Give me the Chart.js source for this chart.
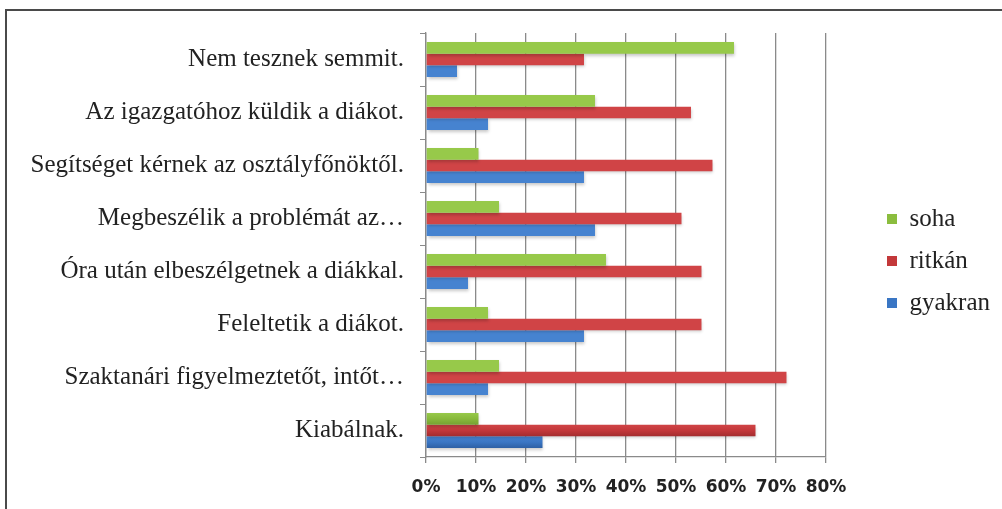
<!DOCTYPE html>
<html>
<head>
<meta charset="utf-8">
<script src="https://cdn.jsdelivr.net/npm/chart.js@4.4.1/dist/chart.umd.min.js"></script>
<style>
  html, body { margin: 0; padding: 0; background: #ffffff; }
  #wrap { position: relative; width: 1002px; height: 509px; overflow: hidden; }
  #frame { position: absolute; left: 5px; top: 9px; width: 1100px; height: 600px;
           border-left: 2px solid #4a4a4a; border-top: 2px solid #4a4a4a; }
  canvas { position: absolute; left: 0; top: 0; }
</style>
</head>
<body>
<div id="wrap">
  <div id="frame"></div>
  <canvas id="c" width="1002" height="509"></canvas>
</div>
<script>
const categories = [
  "Nem tesznek semmit.",
  "Az igazgatóhoz küldik a diákot.",
  "Segítséget kérnek az osztályfőnöktől.",
  "Megbeszélik a problémát az…",
  "Óra után elbeszélgetnek a diákkal.",
  "Feleltetik a diákot.",
  "Szaktanári figyelmeztetőt, intőt…",
  "Kiabálnak."
];
const seriesNames = ["soha", "ritkán", "gyakran"];
const soha    = [61.6, 33.8, 10.5, 14.6, 36.0, 12.4, 14.6, 10.5];
const ritkan  = [31.6, 53.0, 57.3, 51.1, 55.1, 55.1, 72.1, 65.9];
const gyakran = [ 6.2, 12.4, 31.6, 33.8,  8.4, 31.6, 12.4, 23.3];
const xTicks  = [0, 10, 20, 30, 40, 50, 60, 70, 80];

const colors = ["#8bbd3e", "#c3383a", "#3a76c4"];
const gradStops = [
  ["#97c94a", "#88b93c", "#76a132"],
  ["#d04446", "#c3373a", "#a32c2e"],
  ["#4683d0", "#3a76c4", "#2e60a4"]
];

const SERIF = '"Liberation Serif", "Times New Roman", serif';
Chart.defaults.font.family = SERIF;

const barStyle = {
  id: 'barStyle',
  beforeDatasetsDraw(chart) {
    const c = chart.ctx;
    chart.data.datasets.forEach((ds, i) => {
      const meta = chart.getDatasetMeta(i);
      meta.data.forEach(el => {
        const top = el.y - el.height / 2, bot = el.y + el.height / 2;
        const g = c.createLinearGradient(0, top, 0, bot);
        g.addColorStop(0, gradStops[i][0]);
        g.addColorStop(0.5, gradStops[i][1]);
        g.addColorStop(1, gradStops[i][2]);
        el.options.backgroundColor = g;
      });
    });
    c.save();
    c.shadowColor = 'rgba(0,0,0,0.22)';
    c.shadowBlur = 3;
    c.shadowOffsetX = 1;
    c.shadowOffsetY = 2;
  },
  afterDatasetsDraw(chart) { chart.ctx.restore(); }
};

const legendShift = {
  id: 'legendShift',
  afterLayout(chart) {
    const l = chart.legend;
    const dx = 44, dy = -10;
    l.left += dx; l.right += dx; l.top += dy; l.bottom += dy;
  }
};

const ctx = document.getElementById('c').getContext('2d');
new Chart(ctx, {
  type: 'bar',
  data: {
    labels: categories,
    datasets: [
      { label: seriesNames[0], data: soha,    backgroundColor: colors[0], borderWidth: 0 },
      { label: seriesNames[1], data: ritkan,  backgroundColor: colors[1], borderWidth: 0 },
      { label: seriesNames[2], data: gyakran, backgroundColor: colors[2], borderWidth: 0 }
    ]
  },
  plugins: [barStyle, legendShift],
  options: {
    indexAxis: 'y',
    responsive: false,
    animation: false,
    layout: { padding: { top: 33, left: 14, right: 46, bottom: 0 } },
    datasets: { bar: { categoryPercentage: 0.66, barPercentage: 1.0 } },
    plugins: {
      legend: {
        position: 'right',
        labels: {
          boxWidth: 10, boxHeight: 10, padding: 17,
          color: '#222',
          font: { family: SERIF, size: 25 }
        }
      },
      tooltip: { enabled: false }
    },
    scales: {
      x: {
        min: 0, max: 80,
        afterBuildTicks: (s) => { s.ticks = xTicks.map(v => ({ value: v })); },
        afterFit: (s) => { s.height = 509 - 457; },
        grid: { color: '#8a8a8a', lineWidth: 1.3, tickColor: '#8a8a8a', tickLength: 6 },
        border: { color: '#8a8a8a', width: 1.3 },
        ticks: {
          color: '#222', padding: 14,
          font: { family: '"DejaVu Sans", sans-serif', size: 17, weight: 'bold' },
          callback: (v) => v + '%'
        }
      },
      y: {
        grid: { drawOnChartArea: false, color: '#8a8a8a', tickColor: '#8a8a8a', tickLength: 6, offset: true },
        border: { color: '#8a8a8a', width: 1.3 },
        afterFit: (s) => { s.width = 426 - 14; s.paddingTop = 0; s.paddingBottom = 0; },
        ticks: {
          color: '#222', padding: 16, autoSkip: false,
          font: { family: SERIF, size: 25 }
        }
      }
    }
  }
});
</script>
</body>
</html>
